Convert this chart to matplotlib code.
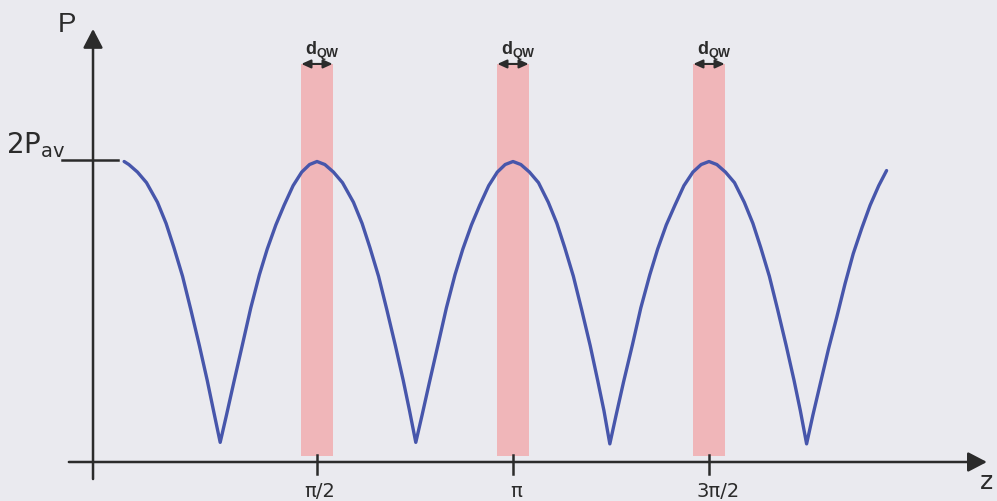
import numpy as np
import matplotlib
matplotlib.use("Agg")
import matplotlib.pyplot as plt

plt.rcParams['mathtext.fontset'] = 'custom'
plt.rcParams['mathtext.rm'] = 'Liberation Sans'
plt.rcParams['mathtext.bf'] = 'Liberation Sans:bold'

# standing-wave power along z (z in units of pi, P in units of P_av)
z_wave = [0.008, 0.020, 0.042, 0.065, 0.093, 0.115, 0.135, 0.157, 0.178, 0.200, 0.220, 0.236, 0.253,
          0.269, 0.288, 0.310, 0.331, 0.353, 0.373, 0.395, 0.416, 0.439, 0.461, 0.481, 0.500,
          0.520, 0.542, 0.565, 0.593, 0.615, 0.635, 0.657, 0.678, 0.700, 0.720, 0.736, 0.752,
          0.768, 0.787, 0.809, 0.830, 0.852, 0.872, 0.894, 0.915, 0.938, 0.960, 0.980, 1.000,
          1.020, 1.042, 1.065, 1.090, 1.112, 1.132, 1.154, 1.175, 1.197, 1.216, 1.232, 1.247,
          1.263, 1.282, 1.305, 1.326, 1.349, 1.369, 1.391, 1.413, 1.436, 1.459, 1.480, 1.500,
          1.520, 1.542, 1.565, 1.590, 1.612, 1.632, 1.654, 1.675, 1.697, 1.717, 1.733, 1.749,
          1.765, 1.784, 1.805, 1.826, 1.847, 1.868, 1.890, 1.911, 1.933, 1.953]
p_wave = [1.99, 1.97, 1.92, 1.85, 1.72, 1.58, 1.42, 1.23, 1.01, 0.77, 0.54, 0.34, 0.13,
          0.31, 0.53, 0.78, 1.02, 1.24, 1.41, 1.57, 1.70, 1.83, 1.92, 1.97, 1.99,
          1.97, 1.92, 1.85, 1.72, 1.58, 1.42, 1.23, 1.01, 0.77, 0.54, 0.34, 0.13,
          0.31, 0.53, 0.78, 1.02, 1.24, 1.41, 1.57, 1.70, 1.83, 1.92, 1.97, 1.99,
          1.97, 1.92, 1.85, 1.72, 1.58, 1.42, 1.23, 1.01, 0.77, 0.54, 0.34, 0.12,
          0.31, 0.53, 0.78, 1.02, 1.24, 1.41, 1.57, 1.70, 1.83, 1.92, 1.97, 1.99,
          1.97, 1.92, 1.85, 1.72, 1.58, 1.42, 1.23, 1.01, 0.77, 0.54, 0.34, 0.12,
          0.31, 0.52, 0.75, 0.96, 1.18, 1.38, 1.55, 1.70, 1.83, 1.93]

# quantum wells sit at the antinodes
qw_centers = [0.5, 1.0, 1.5]
qw_width = 0.08
qw_label = r'$\mathbf{d_{QW}}$'

tick_pos = [0.5, 1.0, 1.5]
tick_labels = ['π/2', 'π', '3π/2']
label_shift = [0.006, 0.008, 0.023]

bg = '#eaeaef'
ink = '#2b2b2b'

fig = plt.figure(figsize=(9.97, 5.02), dpi=100, facecolor=bg)
ax = fig.add_axes([0, 0, 1, 1])
ax.set_facecolor(bg)
ax.set_xlim(-0.3087, 2.2347)
ax.set_ylim(-0.2583, 3.0662)
ax.axis('off')

# well regions
for c in qw_centers:
    ax.fill_between([c - qw_width / 2, c + qw_width / 2], 0.04, 2.636,
                    color='#f0b6b9', lw=0, zorder=1)
    ax.annotate('', xy=(c - qw_width / 2, 2.636), xytext=(c + qw_width / 2, 2.636),
                arrowprops=dict(arrowstyle='<|-|>,head_length=0.55,head_width=0.25',
                                color=ink, lw=1.5, shrinkA=0, shrinkB=0), zorder=4)
    ax.text(c + 0.013, 2.70, qw_label, fontsize=13, ha='center', va='baseline', color=ink)

ax.plot(z_wave, p_wave, color='#4756ab', lw=2.4, solid_joinstyle='round',
        solid_capstyle='round', zorder=3)

# axes with arrow heads
arrow = dict(arrowstyle='-|>,head_length=1.15,head_width=0.6', color=ink, lw=1.8,
             shrinkA=0, shrinkB=0)
ax.annotate('', xy=(2.209, 0), xytext=(-0.133, 0), arrowprops=arrow, zorder=5)
ax.annotate('', xy=(-0.0714, 2.868), xytext=(-0.0714, -0.113), arrowprops=arrow, zorder=5)

for x, lab, dx in zip(tick_pos, tick_labels, label_shift):
    ax.plot([x, x], [-0.079, 0.046], color=ink, lw=1.8, zorder=5)
    ax.text(x + dx, -0.19, lab, fontsize=14, family='DejaVu Sans', ha='center',
            va='center', color=ink)

# 2P_av level mark
ax.plot([-0.1505, -0.0077], [2.0, 2.0], color=ink, lw=1.8, zorder=5)
ax.text(-0.293, 2.053, r'$\mathregular{2P_{av}}$', fontsize=20, ha='left', va='baseline',
        color=ink)

ax.text(-0.138, 2.854, 'P', fontsize=20, family='Liberation Sans', ha='center',
        va='baseline', color=ink)
ax.text(2.209, -0.129, 'z', fontsize=18, family='DejaVu Sans', ha='center', va='center',
        color=ink)

fig.savefig('out.png', dpi=100, facecolor=bg)
